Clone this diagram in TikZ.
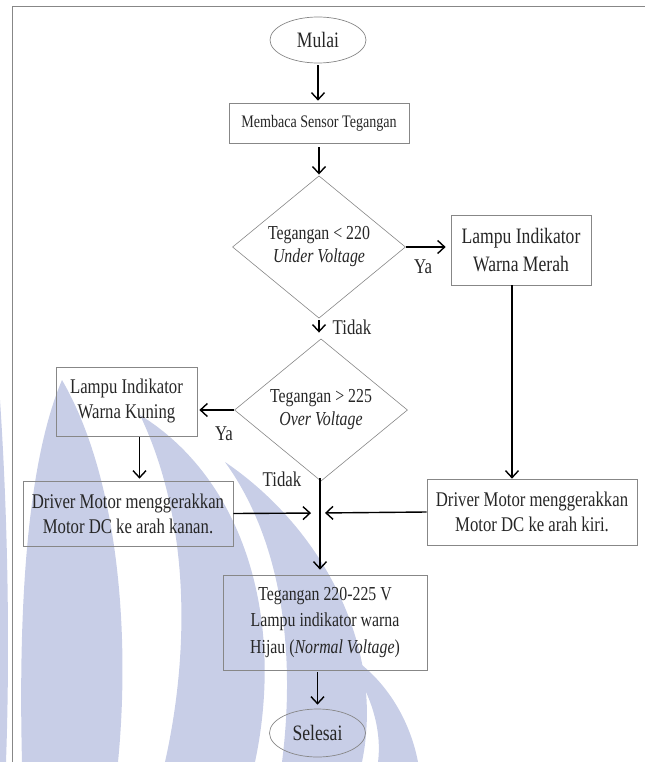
\documentclass[tikz,border=0pt]{standalone}
\usepackage{fontspec}
\setmainfont{Liberation Serif}[FakeStretch=0.8]
\usetikzlibrary{arrows.meta, shapes.geometric, positioning}
\definecolor{wmblue}{RGB}{200,206,231}
\definecolor{garis}{RGB}{135,135,135}
\tikzset{>={Straight Barb[length=7pt,width=13pt]}}

\begin{document}
\begin{tikzpicture}[x=1pt, y=-1pt,
  kotak/.style={draw=garis, line width=0.7pt, rectangle, inner sep=0pt, align=center, text=black!85},
  terminal/.style={draw=garis, line width=0.7pt, ellipse, inner sep=0pt, minimum width=96pt, minimum height=46pt, text=black!85, font=\fontsize{22}{26}\selectfont},
  keputusan/.style={draw=garis, line width=0.6pt, diamond, inner sep=0pt, minimum width=173pt, align=center, text=black!85, font=\fontsize{19.8}{23}\selectfont},
  arus/.style={->, line width=1.4pt, black},
  cabang/.style={text=black!85, font=\fontsize{21}{24}\selectfont}]

\useasboundingbox (0,0) rectangle (645,762);

\fill[wmblue] (0,400) .. controls (8,520) and (10,650) .. (6,762) -- (0,762) -- cycle;
\fill[wmblue] (62,380) .. controls (28,460) and (18,600) .. (22,762) -- (118,762) .. controls (130,640) and (120,480) .. cycle;
\fill[wmblue] (140,415) .. controls (190,520) and (190,650) .. (165,762) -- (255,762) .. controls (285,620) and (245,480) .. cycle;
\fill[wmblue] (225,462) .. controls (285,545) and (295,660) .. (282,762) -- (362,762) .. controls (385,650) and (325,530) .. cycle;
\fill[wmblue] (340,650) .. controls (372,690) and (382,730) .. (378,762) -- (418,762) .. controls (410,720) and (385,675) .. cycle;

\draw[garis, line width=0.8pt] (12,762) -- (12,6.5) -- (645,6.5);

\node[terminal] (mulai) at (318,40) {Mulai};
\node[kotak, minimum width=180pt, minimum height=40pt, font=\fontsize{17.6}{20}\selectfont] (membaca) at (319,123) {Membaca Sensor Tegangan};
\node[keputusan, minimum height=140pt] (d1) at (319,247) {Tegangan < 220\\\textit{Under Voltage}};
\node[kotak, minimum width=140pt, minimum height=70pt, font=\fontsize{22}{28}\selectfont] (merah) at (521,250) {Lampu Indikator\\Warna Merah};
\node[keputusan, minimum height=118pt] (d2) at (321,410) {Tegangan > 225\\\textit{Over Voltage}};
\node[kotak, minimum width=141pt, minimum height=69pt, font=\fontsize{20.9}{25}\selectfont] (kuning) at (126.5,401.5) {Lampu Indikator\\Warna Kuning};
\node[kotak, minimum width=210pt, minimum height=65pt, font=\fontsize{20.9}{25}\selectfont] (kanan) at (128,513.5) {Driver Motor menggerakkan\\Motor DC ke arah kanan.};
\node[kotak, minimum width=210pt, minimum height=66pt, font=\fontsize{20.9}{25}\selectfont] (kiri) at (532,512) {Driver Motor menggerakkan\\Motor DC ke arah kiri.};
\node[kotak, minimum width=204pt, minimum height=95pt, font=\fontsize{19.8}{26.5}\selectfont] (hijau) at (325,622.5) {Tegangan 220-225 V\\Lampu indikator warna\\Hijau (\textit{Normal Voltage})};
\node[terminal, minimum height=48pt] (selesai) at (317.5,733) {Selesai};

\coordinate (gabung) at (320,478);
\coordinate (temu) at (320,513);

\node[cabang] (ya1) at (423,267) {Ya};
\node[cabang] (tidak1) at (352,327) {Tidak};
\node[cabang] (ya2) at (224,434) {Ya};
\node[cabang] (tidak2) at (282,479) {Tidak};

\draw [arus, shorten <=2pt, shorten >=2pt] (mulai.south) -- (mulai.south |- membaca.north);
\draw [arus, shorten <=4pt, shorten >=1pt] (membaca.south) -- (membaca.south |- d1.north);
\draw [arus, shorten >=5pt] (d1.east) -- (d1.east -| merah.west);
\draw [arus, shorten <=2pt, shorten >=6pt] (d1.south) -- (d1.south |- d2.north);
\draw [arus, shorten >=2pt] (d2.west) -- (d2.west -| kuning.east);
\draw [arus, shorten <=1pt, shorten >=2pt] ([xshift=13pt]kuning.south) -- ([xshift=13pt]kuning.south |- kanan.north);
\draw [arus] ([xshift=-9pt]merah.south) -- ([xshift=-9pt]merah.south |- kiri.north);
\draw [arus, shorten >=5pt] (gabung) -- (gabung |- hijau.north);
\draw [arus, shorten >=9pt] (kanan.east) -- (temu);
\draw [arus, shorten >=5pt] (kiri.west) -- (temu);
\draw [arus, shorten <=2pt, shorten >=4pt] (selesai.north |- hijau.south) -- (selesai.north);

\end{tikzpicture}
\end{document}
